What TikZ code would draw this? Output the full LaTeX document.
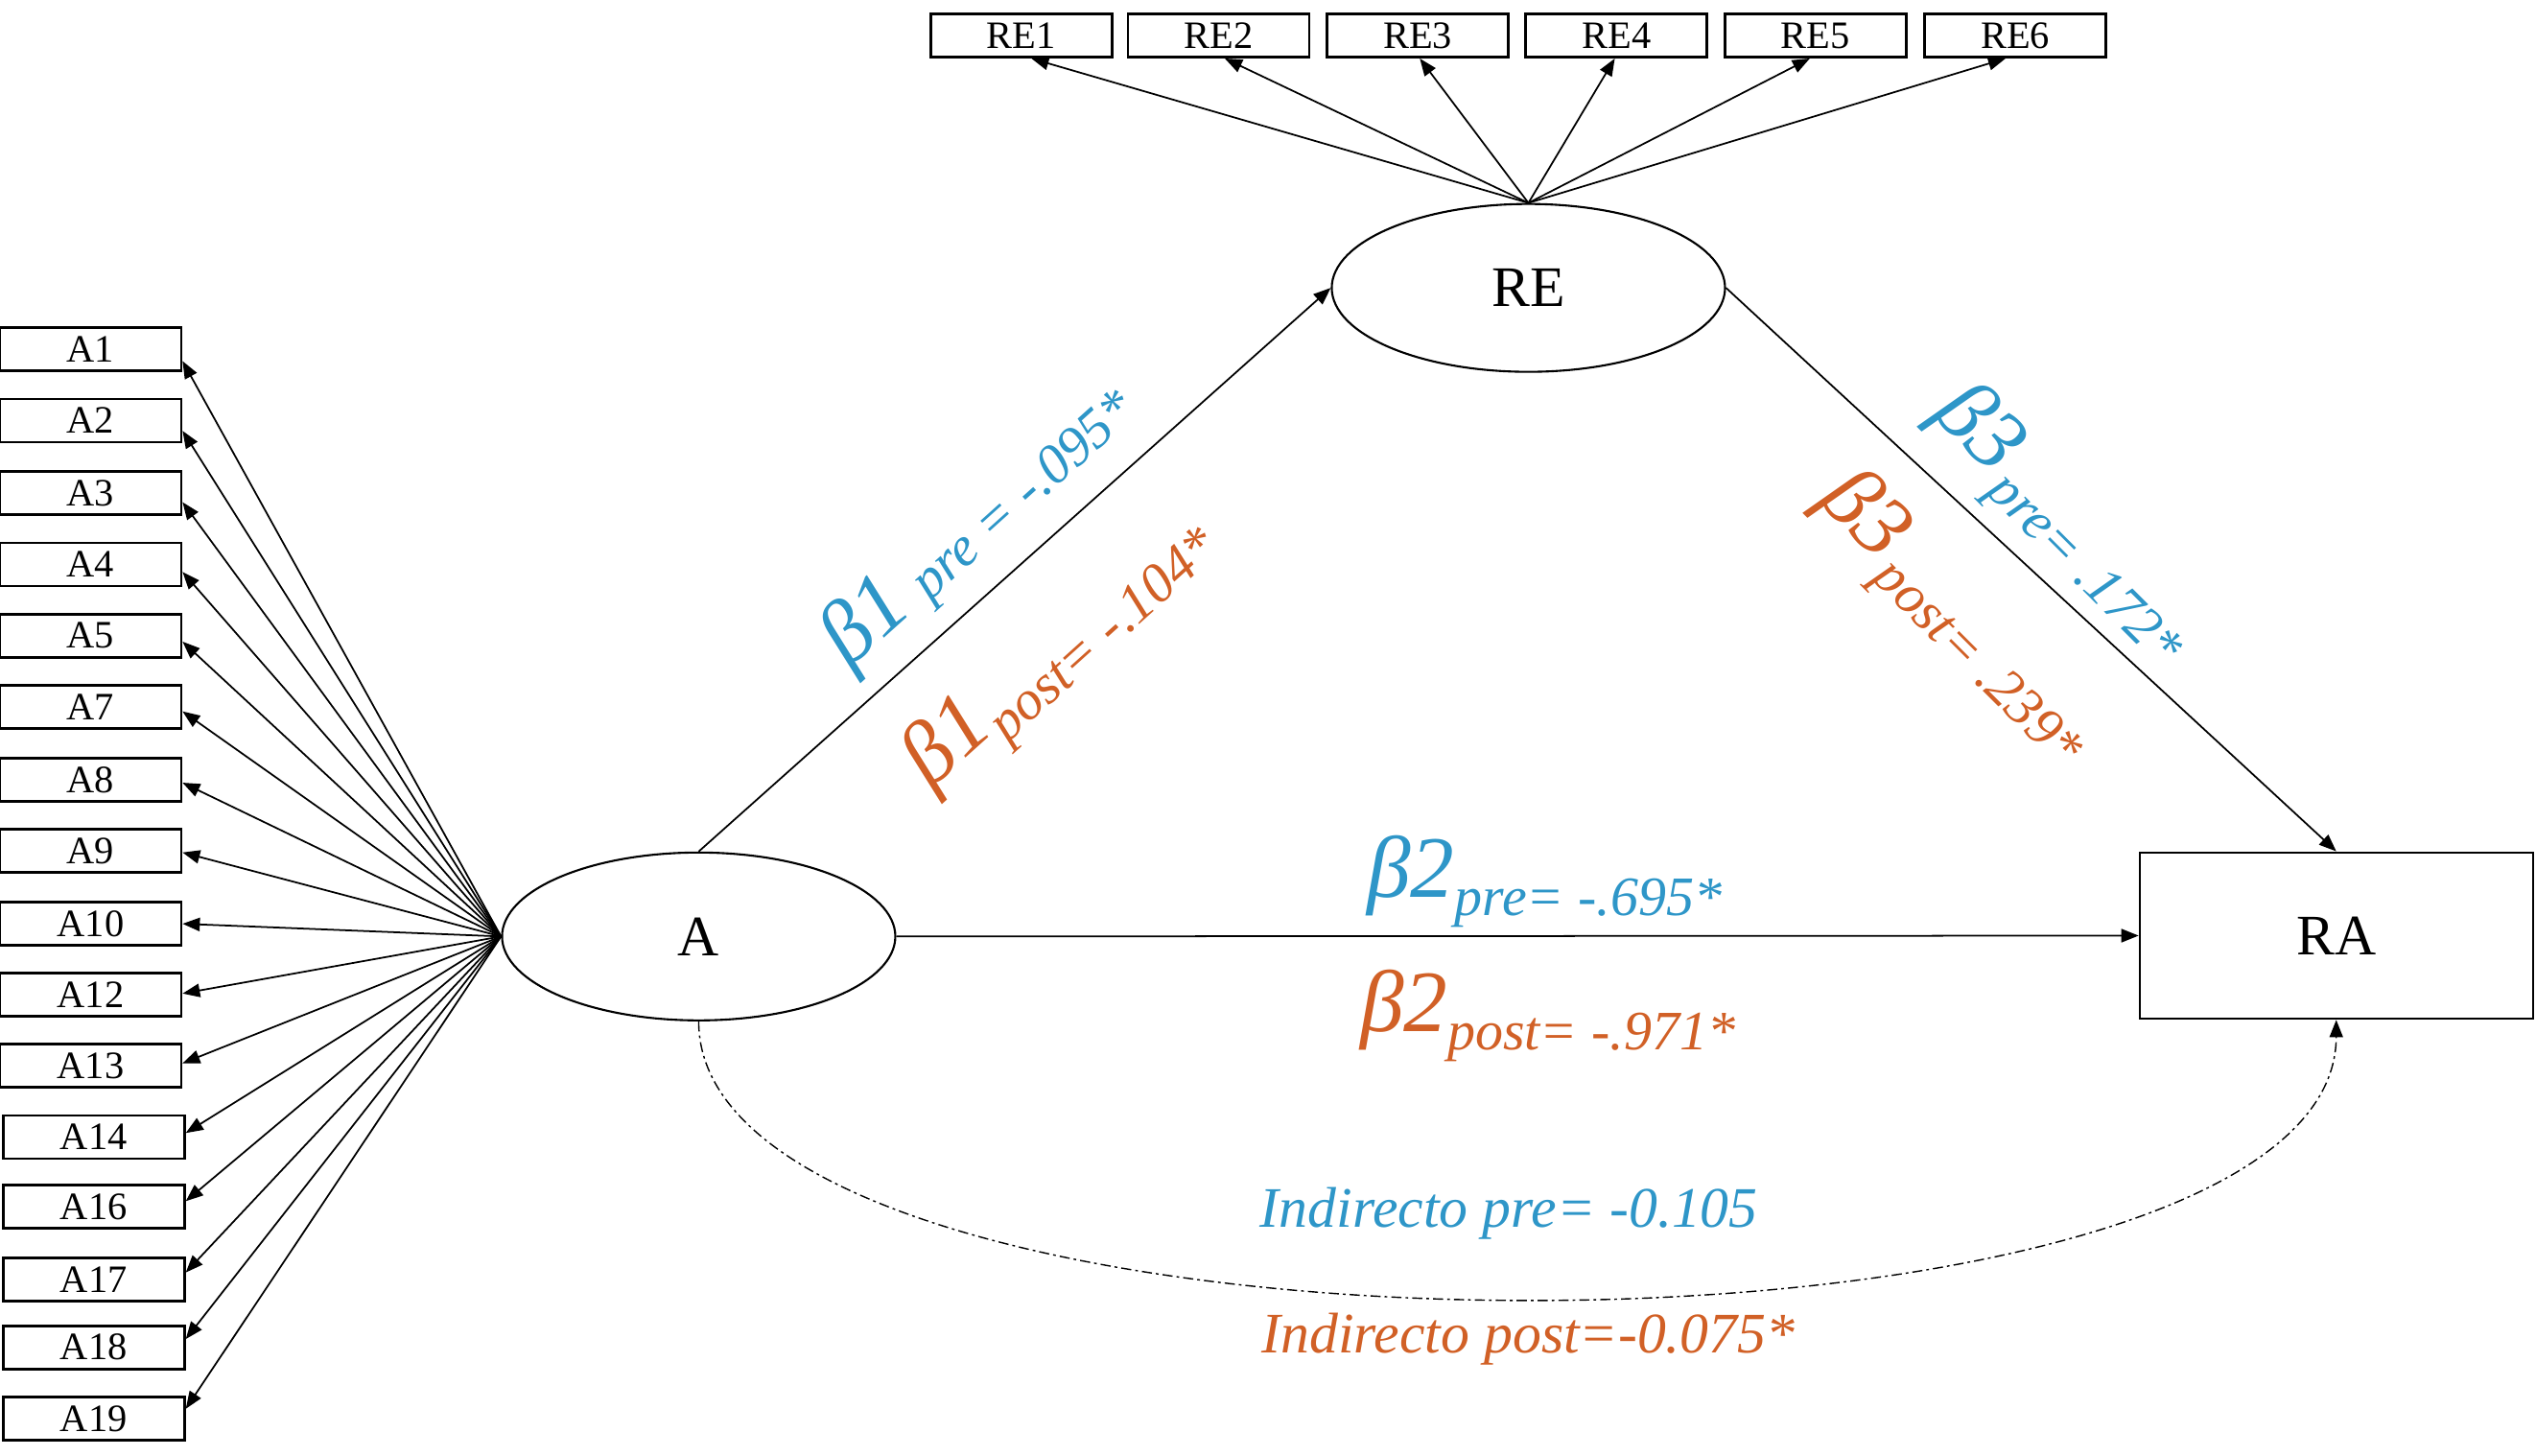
\documentclass[tikz,border=0pt]{standalone}
\usepackage{fontspec}
\setmainfont{Liberation Serif}
\usetikzlibrary{arrows.meta,shapes.geometric,calc}
\definecolor{cblue}{RGB}{46,150,200}
\definecolor{corange}{RGB}{209,96,38}
\newcommand{\bigb}[1]{{\fontsize{26}{26}\selectfont #1}}
\newcommand{\subl}[2]{\raisebox{#1}{\fontsize{16.5}{16.5}\selectfont #2}}
\begin{document}
\begin{tikzpicture}[x=0.016862cm, y=-0.016862cm,
  abox/.style={draw, line width=0.8pt, minimum width=1.89cm, minimum height=0.45cm, inner sep=0pt, font=\fontsize{11.5}{11.5}\selectfont},
  lat/.style={draw, ellipse, minimum width=4.1cm, minimum height=1.75cm, inner sep=0pt, line width=0.6pt, font=\fontsize{17}{17}\selectfont},
  obs/.style={draw, rectangle, minimum width=4.1cm, minimum height=1.737cm, inner sep=0pt, line width=0.6pt, font=\fontsize{17}{17}\selectfont},
  arr/.style={-{Triangle[length=1.8mm,width=1.4mm]}, line width=0.5pt},
  lbl/.style={font=\itshape, inner sep=0pt}]
\useasboundingbox (0,0) rectangle (1568,900);

\node[lat] (A) at (432,579) {A};
\node[lat] (RE) at (945,178) {RE};
\node[obs] (RA) at (1444.5,578.5) {RA};

\foreach \lab/\xx in {RE1/631.5, RE2/753.5, RE3/876.5, RE4/999.5, RE5/1122.5, RE6/1246} {
  \node[abox] (\lab) at (\xx,22) {\lab};
  \draw[arr] (RE.north) -- ([xshift={(945-\xx)*0.0096pt}]\lab.south);
}

\foreach \lab/\xx/\yy in {A1/56/216, A2/56/260, A3/56/305, A4/56/349, A5/56/393, A7/56/437, A8/56/482, A9/56/526, A10/56/571, A12/56/615, A13/56/659, A14/58/703, A16/58/746, A17/58/791, A18/58/833, A19/58/877} {
  \node[abox] (\lab) at (\xx,\yy) {\lab};
  \draw[arr] (A.west) -- ([yshift={(\yy-579)*0.0096pt}]\lab.east);
}

\draw[arr] (A.north) -- (RE.west);
\draw[arr] (RE.east) -- (RA.north);
\draw[arr] (A.east) -- (RA.west);
\draw[arr, line width=0.4pt, dash pattern=on 3pt off 1.2pt on 0.8pt off 1.2pt] (A.south) .. controls (432,860) and (1444,860) .. (RA.south);

\node[lbl, text=cblue, rotate=42] (b1pre) at (605,324) {\bigb{β1}\enspace\subl{-1pt}{pre = -.095*}};
\node[lbl, text=corange, rotate=42] (b1post) at (655,403) {\bigb{β1}\subl{-5pt}{post= -.104*}};
\node[lbl, text=cblue, rotate=-45] (b3pre) at (1276,324) {\bigb{β3}\,\subl{-5pt}{pre= .172*}};
\node[lbl, text=corange, rotate=-45] (b3post) at (1210,382) {\bigb{β3}\,\subl{-5pt}{post= .239*}};
\node[lbl, text=cblue] (b2pre) at (955,545) {\bigb{β2}\subl{-5.5pt}{pre= -.695*}};
\node[lbl, text=corange] (b2post) at (957,628) {\bigb{β2}\subl{-5.5pt}{post= -.971*}};
\node[lbl, text=cblue, font=\itshape\fontsize{17}{17}\selectfont] (ipre) at (933,750) {Indirecto pre= -0.105};
\node[lbl, text=corange, font=\itshape\fontsize{17}{17}\selectfont] (ipost) at (945,828) {Indirecto post=-0.075*};
\end{tikzpicture}
\end{document}
